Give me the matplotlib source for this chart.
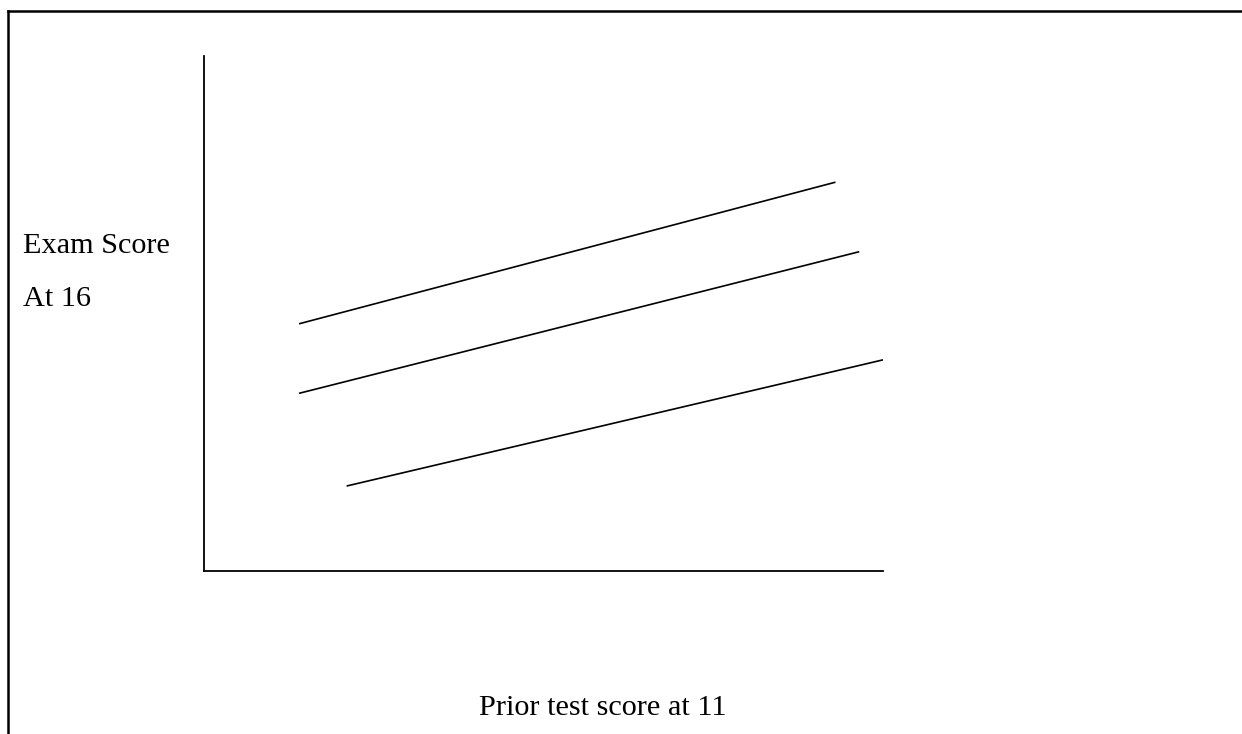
import matplotlib
matplotlib.use("Agg")
import matplotlib.pyplot as plt
from matplotlib.lines import Line2D

# Data (arbitrary units)
line_x_start = [14, 14, 21]
line_x_end = [93, 96.5, 100]
line_y_start = [48, 34.5, 16.5]
line_y_end = [75.5, 62, 41]

ylabel_lines = ["Exam Score", "At 16"]
xlabel = "Prior test score at 11"

W, H = 1242, 734
fig = plt.figure(figsize=(W / 100, H / 100), dpi=100)
plt.rcParams['font.family'] = ['Liberation Serif', 'DejaVu Serif']

ax = fig.add_axes([204 / W, (H - 571) / H, (883 - 204) / W, (571 - 56) / H])
ax.set_xlim(0, 100)
ax.set_ylim(0, 100)
for s in ['top', 'right']:
    ax.spines[s].set_visible(False)
for s in ['left', 'bottom']:
    ax.spines[s].set_linewidth(1.3)
ax.set_xticks([])
ax.set_yticks([])
ax.patch.set_alpha(0)

for xs, xe, ys, ye in zip(line_x_start, line_x_end, line_y_start, line_y_end):
    ax.plot([xs, xe], [ys, ye], color='black', lw=1.2, solid_capstyle='butt')

# Frame around the figure (left and top edges)
fig.add_artist(Line2D([7.5 / W, 7.5 / W], [0, (H - 10.5) / H], transform=fig.transFigure,
                      color='black', lw=1.8, solid_capstyle='projecting'))
fig.add_artist(Line2D([7.5 / W, 1], [(H - 10.5) / H, (H - 10.5) / H], transform=fig.transFigure,
                      color='black', lw=1.8, solid_capstyle='projecting'))

fs = 21.8
fig.text(23 / W, (H - 253) / H, ylabel_lines[0], fontsize=fs, ha='left', va='baseline')
fig.text(23 / W, (H - 306) / H, ylabel_lines[1], fontsize=fs, ha='left', va='baseline')
fig.text(602.5 / W, (H - 715) / H, xlabel, fontsize=fs, ha='center', va='baseline')

fig.savefig("out.png", dpi=100)
